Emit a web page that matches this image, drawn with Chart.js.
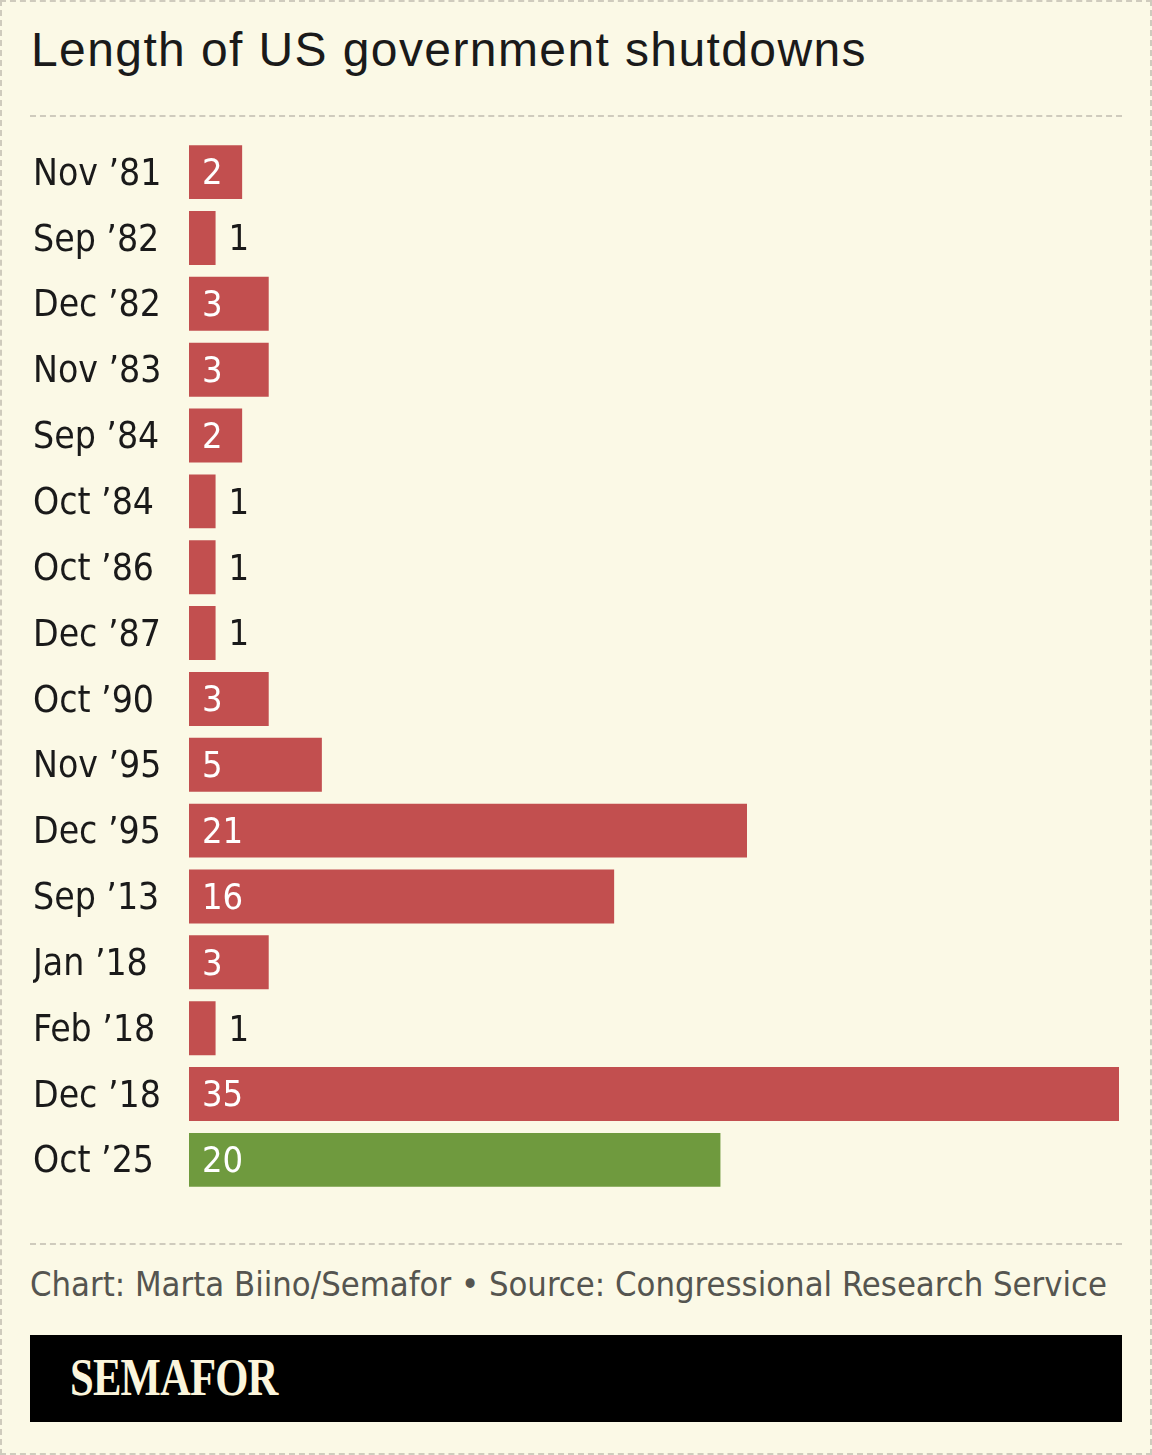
<!DOCTYPE html>
<html>
<head>
<meta charset="utf-8">
<script src="https://cdn.jsdelivr.net/npm/chart.js@4/dist/chart.umd.min.js"></script>
<style>
  html, body { margin: 0; padding: 0; background: #fbf9e6; }
  #page {
    position: relative; width: 1148px; height: 1451px;
    border: 2px dashed #cfcbbd; background: #fbf9e6; overflow: hidden;
  }
  #title {
    position: absolute; left: 29px; top: 20px;
    font-family: 'Liberation Sans', Arial, sans-serif; font-size: 48px; color: #1a1a1a;
    letter-spacing: 1.4px; white-space: nowrap;
  }
  .rule { position: absolute; left: 28px; width: 1092px; border-top: 2px dashed #cfcbbd; height: 0; }
  #chartBox { position: absolute; left: 28px; top: 115px; width: 1092px; height: 1098px; }
  #source {
    position: absolute; left: 28px; top: 1262px;
    font-family: 'Liberation Sans Narrow', 'DejaVu Sans Condensed', sans-serif; font-size: 34.3px; color: #555550;
    white-space: nowrap;
  }
  #logo {
    position: absolute; left: 28px; top: 1333px; width: 1092px; height: 87px; background: #000;
  }
  #logo span {
    position: absolute; left: 40px; top: 13px;
    font-family: 'Liberation Serif', 'DejaVu Serif', serif; font-weight: bold; font-size: 52px; color: #fbf5dc;
    transform: scaleX(0.82); transform-origin: left center; letter-spacing: -1px;
  }
</style>
</head>
<body>
<div id="page">
  <div id="title">Length of US government shutdowns</div>
  <div class="rule" style="top:113px"></div>
  <div id="chartBox"><canvas id="c"></canvas></div>
  <div class="rule" style="top:1241px"></div>
  <div id="source">Chart: Marta Biino/Semafor • Source: Congressional Research Service</div>
  <div id="logo"><span>SEMAFOR</span></div>
</div>
<script>
const categories = ["Nov \u201981","Sep \u201982","Dec \u201982","Nov \u201983","Sep \u201984","Oct \u201984","Oct \u201986","Dec \u201987","Oct \u201990","Nov \u201995","Dec \u201995","Sep \u201913","Jan \u201918","Feb \u201918","Dec \u201918","Oct \u201925"];
const days = [2,1,3,3,2,1,1,1,3,5,21,16,3,1,35,20];
const isCurrent = [false,false,false,false,false,false,false,false,false,false,false,false,false,false,false,true];

const RED = '#c24f4f', GREEN = '#6f9a3e';
const condensed = "'Liberation Sans Narrow', 'DejaVu Sans Condensed', sans-serif";

const valueLabels = {
  id: 'valueLabels',
  afterDatasetsDraw(chart) {
    const ctx = chart.ctx;
    const meta = chart.getDatasetMeta(0);
    ctx.save();
    ctx.font = "36px " + condensed;
    ctx.textBaseline = 'middle';
    ctx.textAlign = 'left';
    meta.data.forEach((bar, i) => {
      const v = days[i];
      const left = bar.base;
      if (v >= 2) {
        ctx.fillStyle = '#ffffff';
        ctx.fillText(String(v), left + 13, bar.y + 3);
      } else {
        ctx.fillStyle = '#1a1a1a';
        ctx.fillText(String(v), bar.x + 13, bar.y + 3);
      }
    });
    ctx.restore();
  }
};

new Chart(document.getElementById('c'), {
  type: 'bar',
  data: {
    labels: categories,
    datasets: [{
      data: days,
      backgroundColor: isCurrent.map(c => c ? GREEN : RED),
      borderWidth: 0,
      barPercentage: 0.82,
      categoryPercentage: 1.0
    }]
  },
  options: {
    indexAxis: 'y',
    responsive: true,
    maintainAspectRatio: false,
    animation: false,
    layout: { padding: { top: 9, right: 3, bottom: 7, left: 3 } },
    plugins: { legend: { display: false }, tooltip: { enabled: false } },
    scales: {
      x: {
        min: 0, max: 35,
        display: false,
        grid: { display: false }
      },
      y: {
        grid: { display: false },
        border: { display: false },
        ticks: {
          crossAlign: 'far',
          padding: 0,
          labelOffset: 3,
          color: '#1a1a1a',
          font: { family: condensed, size: 37 }
        },
        afterFit(scale) { scale.width = 156; }
      }
    }
  },
  plugins: [valueLabels]
});
</script>
</body>
</html>
